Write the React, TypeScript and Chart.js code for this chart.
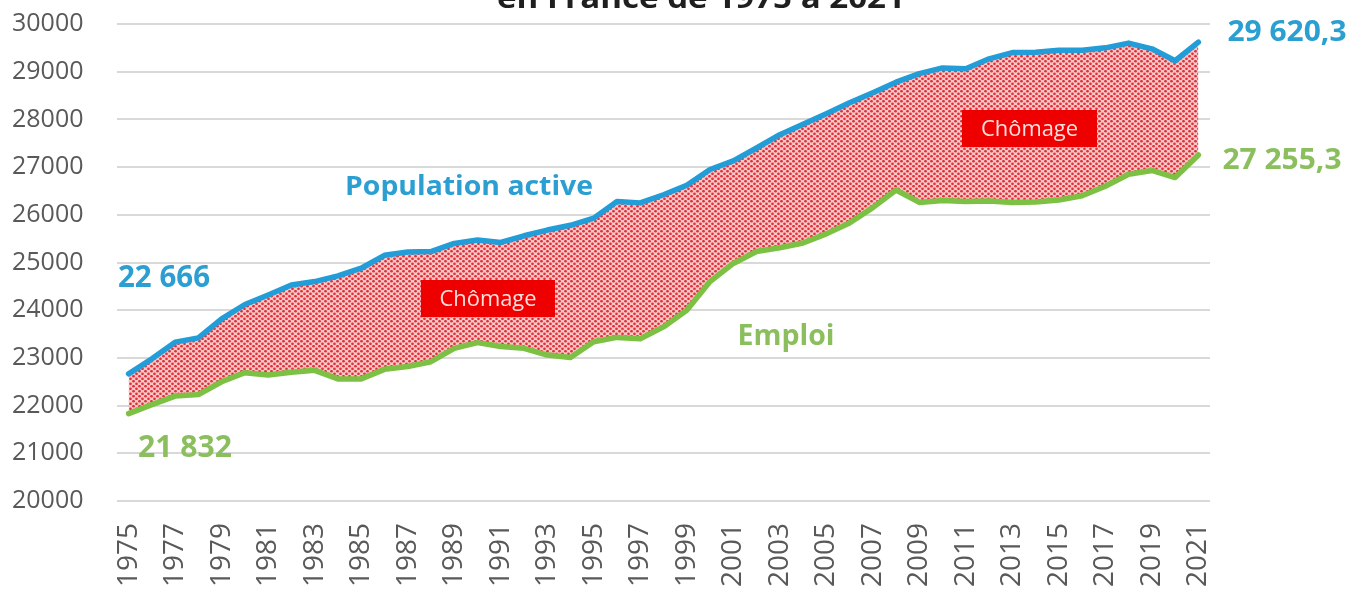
import React, { useEffect, useRef } from "react";
import { Chart, registerables } from "chart.js";

Chart.register(...registerables);

const years: string[] = [
  "1975", "1976", "1977", "1978", "1979", "1980", "1981", "1982", "1983", "1984",
  "1985", "1986", "1987", "1988", "1989", "1990", "1991", "1992", "1993", "1994",
  "1995", "1996", "1997", "1998", "1999", "2000", "2001", "2002", "2003", "2004",
  "2005", "2006", "2007", "2008", "2009", "2010", "2011", "2012", "2013", "2014",
  "2015", "2016", "2017", "2018", "2019", "2020", "2021",
];

const populationActive: number[] = [
  22666, 22980, 23330, 23420, 23820, 24120, 24320, 24530, 24600, 24720,
  24880, 25150, 25220, 25230, 25400, 25470, 25420, 25560, 25680, 25780,
  25930, 26280, 26250, 26420, 26620, 26950, 27130, 27400, 27680, 27900,
  28120, 28350, 28560, 28780, 28960, 29080, 29060, 29270, 29400, 29410,
  29450, 29450, 29500, 29600, 29480, 29230, 29620.3,
];

const emploi: number[] = [
  21832, 22020, 22200, 22230, 22500, 22690, 22640, 22700, 22740, 22560,
  22560, 22760, 22820, 22920, 23200, 23320, 23240, 23200, 23060, 23010,
  23340, 23430, 23400, 23650, 24000, 24600, 24980, 25230, 25310, 25410,
  25600, 25830, 26150, 26520, 26260, 26300, 26280, 26290, 26260, 26270,
  26310, 26400, 26600, 26850, 26930, 26780, 27255.3,
];

const yMin = 20000;
const yMax = 30000;
const yStep = 1000;

const titleText = "en France de 1975 à 2021";
const labelPop = "Population active";
const labelEmploi = "Emploi";
const labelChomage = "Chômage";
const labelPopStart = "22 666";
const labelPopEnd = "29 620,3";
const labelEmpStart = "21 832";
const labelEmpEnd = "27 255,3";

const BLUE_LINE = "#229dd8";
const BLUE_TEXT = "#2b9fd2";
const GREEN_LINE = "#7cc143";
const GREEN_TEXT = "#8bbf5e";
const FONT = "'Open Sans', 'Noto Sans', sans-serif";

function makePattern(): CanvasPattern | string {
  const c = document.createElement("canvas");
  c.width = 6;
  c.height = 5;
  const g = c.getContext("2d");
  if (!g) return "#ee8080";
  g.fillStyle = "#f9c6c4";
  g.fillRect(0, 0, 6, 5);
  g.fillStyle = "#e0303c";
  const dots = [
    [1.5, 1.25],
    [4.5, 3.75],
  ];
  for (const [x, y] of dots) {
    g.beginPath();
    g.arc(x, y, 1.35, 0, Math.PI * 2);
    g.fill();
  }
  const p = g.createPattern(c, "repeat");
  return p || "#ee8080";
}

function fitText(
  ctx: CanvasRenderingContext2D,
  text: string,
  cx: number,
  baseline: number,
  width: number,
  font: string,
  color: string
) {
  ctx.save();
  ctx.font = font;
  const m = ctx.measureText(text).width || 1;
  const s = width / m;
  ctx.translate(cx, baseline);
  ctx.scale(s, 1);
  ctx.fillStyle = color;
  ctx.textAlign = "center";
  ctx.textBaseline = "alphabetic";
  ctx.fillText(text, 0, 0);
  ctx.restore();
}

const annotations = {
  id: "annotations",
  afterDatasetsDraw(chart: any) {
    const ctx: CanvasRenderingContext2D = chart.ctx;
    fitText(ctx, titleText, 701, 8, 408, `bold 29px ${FONT}`, "#1f1f1f");
    fitText(ctx, labelPop, 469, 195, 248, `bold 26px ${FONT}`, BLUE_TEXT);
    fitText(ctx, labelPopStart, 164, 287, 92, `bold 30px ${FONT}`, BLUE_TEXT);
    fitText(ctx, labelPopEnd, 1287, 41, 119, `bold 28px ${FONT}`, BLUE_TEXT);
    fitText(ctx, labelEmpStart, 185, 457, 94, `bold 31px ${FONT}`, GREEN_TEXT);
    fitText(ctx, labelEmpEnd, 1282, 169, 119, `bold 28px ${FONT}`, GREEN_TEXT);
    fitText(ctx, labelEmploi, 786, 345, 97, `bold 28px ${FONT}`, GREEN_TEXT);

    const boxes = [
      [421, 280, 134, 37],
      [962, 110, 135, 37],
    ];
    for (const [x, y, w, h] of boxes) {
      ctx.save();
      ctx.fillStyle = "#ee0000";
      ctx.fillRect(x, y, w, h);
      ctx.restore();
      fitText(ctx, labelChomage, x + w / 2, y + h / 2 + 7, 97, `21px ${FONT}`, "#fbe0dc");
    }
  },
};

export default function App() {
  const ref = useRef<HTMLCanvasElement | null>(null);

  useEffect(() => {
    if (!ref.current) return;
    const pattern = makePattern();
    const chart = new Chart(ref.current, {
      type: "line",
      data: {
        labels: years,
        datasets: [
          {
            label: labelPop,
            data: populationActive,
            borderColor: BLUE_LINE,
            borderWidth: 5.5,
            pointRadius: 0,
            tension: 0,
            borderJoinStyle: "round",
            borderCapStyle: "round",
            fill: { target: 1 },
            backgroundColor: pattern as any,
          },
          {
            label: labelEmploi,
            data: emploi,
            borderColor: GREEN_LINE,
            borderWidth: 5.5,
            pointRadius: 0,
            tension: 0,
            borderJoinStyle: "round",
            borderCapStyle: "round",
            fill: false,
          },
        ],
      },
      options: {
        responsive: false,
        animation: false,
        layout: { padding: { top: 24, right: 140, left: 12, bottom: 0 } },
        plugins: {
          legend: { display: false },
          title: { display: false },
          tooltip: { enabled: false },
          filler: { drawTime: "beforeDatasetsDraw" },
        } as any,
        scales: {
          x: {
            type: "category",
            offset: true,
            grid: { display: false, drawTicks: false },
            border: { display: false },
            ticks: {
              autoSkip: false,
              minRotation: 90,
              maxRotation: 90,
              padding: 22,
              color: "#595959",
              font: { family: FONT, size: 28 },
              callback: (_v: any, i: number) => (i % 2 === 0 ? years[i] : ""),
            },
            afterFit: (s: any) => {
              s.height = 98;
            },
          },
          y: {
            min: yMin,
            max: yMax,
            grid: { color: "#d9d9d9", lineWidth: 2, drawTicks: false },
            border: { display: false },
            ticks: {
              stepSize: yStep,
              padding: 0,
              crossAlign: "far",
              color: "#595959",
              font: { family: FONT, size: 25 },
              callback: (v: any) => String(v),
            },
            afterFit: (s: any) => {
              s.width = 105;
            },
          },
        },
      },
      plugins: [annotations],
    });
    return () => chart.destroy();
  }, []);

  return (
    <div style={{ position: "fixed", left: 0, top: 0, width: 1350, height: 599, background: "#fff" }}>
      <canvas ref={ref} width={1350} height={599} style={{ display: "block" }} />
    </div>
  );
}
